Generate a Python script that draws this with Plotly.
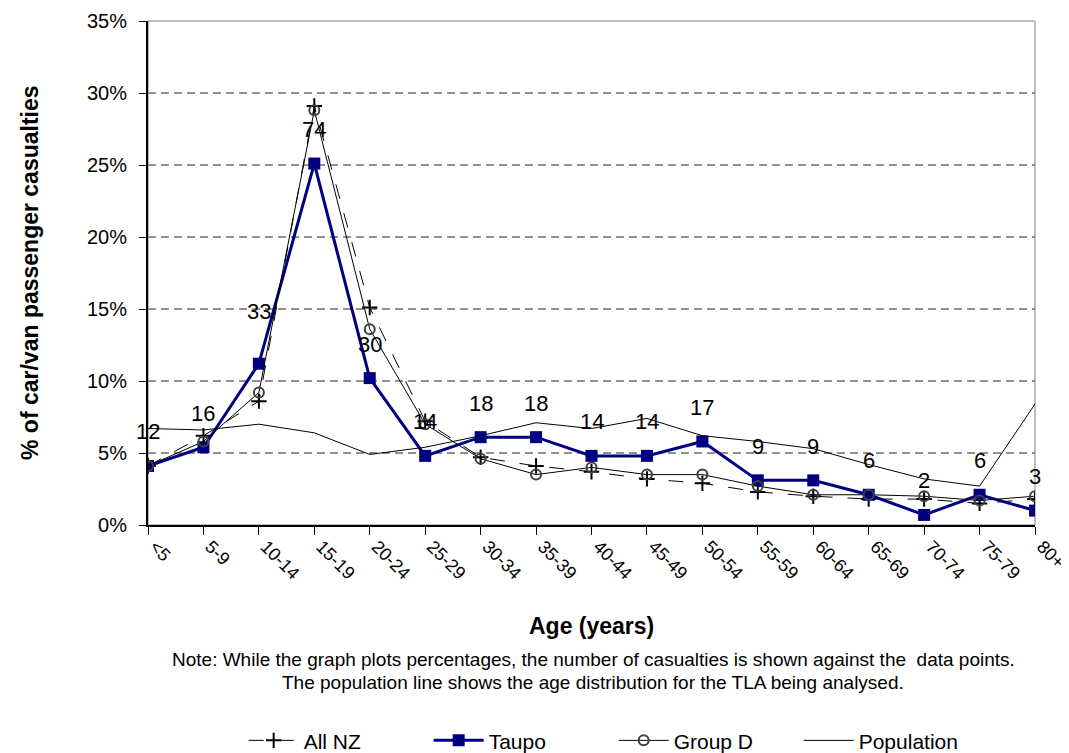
import plotly.graph_objects as go

# age groups along the x axis
ageGroups = ['<5', '5-9', '10-14', '15-19', '20-24', '25-29', '30-34', '35-39', '40-44',
             '45-49', '50-54', '55-59', '60-64', '65-69', '70-74', '75-79', '80+']

# percentages (fractions)
allNZ = [0.041, 0.062, 0.086, 0.291, 0.151, 0.072, 0.047, 0.041, 0.037,
         0.032, 0.029, 0.023, 0.020, 0.018, 0.018, 0.015, 0.018]
taupo = [0.041, 0.054, 0.112, 0.251, 0.102, 0.048, 0.061, 0.061, 0.048,
         0.048, 0.058, 0.031, 0.031, 0.021, 0.007, 0.021, 0.010]
groupD = [0.041, 0.058, 0.092, 0.288, 0.136, 0.070, 0.046, 0.035, 0.040,
          0.035, 0.035, 0.027, 0.021, 0.021, 0.020, 0.017, 0.020]
population = [0.067, 0.066, 0.070, 0.064, 0.049, 0.054, 0.062, 0.071, 0.067,
              0.074, 0.062, 0.058, 0.053, 0.042, 0.032, 0.027, 0.084]

# number of Taupo casualties shown against the points
taupoCounts = [12, 16, 33, 74, 30, 14, 18, 18, 14, 14, 17, 9, 9, 6, 2, 6, 3]

yTicks = [0, 0.05, 0.10, 0.15, 0.20, 0.25, 0.30, 0.35]
yTickText = ['0%', '5%', '10%', '15%', '20%', '25%', '30%', '35%']

FONT = 'Liberation Sans, Arial, sans-serif'

fig = go.Figure()

fig.add_trace(go.Scatter(
    x=ageGroups, y=allNZ, name='All NZ', mode='lines+markers',
    line=dict(color='black', width=1, dash='longdash'),
    marker=dict(symbol='cross-thin', size=11, line=dict(color='black', width=2)),
))
fig.add_trace(go.Scatter(
    x=ageGroups, y=taupo, name='Taupo', mode='lines+markers',
    line=dict(color='#000080', width=3),
    marker=dict(symbol='square', size=12, color='#000080'),
))
fig.add_trace(go.Scatter(
    x=ageGroups, y=groupD, name='Group D', mode='lines+markers',
    line=dict(color='black', width=1),
    marker=dict(symbol='circle-open', size=10, color='#404040', line=dict(width=2)),
))
fig.add_trace(go.Scatter(
    x=ageGroups, y=population, name='Population', mode='lines',
    line=dict(color='black', width=1),
))

# casualty counts above the Taupo points
annotations = []
for age, val, cnt in zip(ageGroups, taupo, taupoCounts):
    shift = 52 if cnt == 33 else 34
    annotations.append(dict(x=age, y=val, text=str(cnt), showarrow=False,
                            yshift=shift, font=dict(size=22, color='black', family=FONT)))

# axis titles and note
annotations.append(dict(x=0.5, y=0, xref='paper', yref='paper', yshift=-101,
                        xanchor='center', yanchor='middle',
                        text='<b>Age (years)</b>', showarrow=False,
                        font=dict(size=23, color='black', family=FONT)))
annotations.append(dict(x=0, y=0.5, xref='paper', yref='paper', xshift=-118,
                        xanchor='center', yanchor='middle',
                        text='<b>% of car/van passenger casualties</b>', textangle=-90,
                        showarrow=False, font=dict(size=23, color='black', family=FONT)))
annotations.append(dict(x=0.502, y=0, xref='paper', yref='paper', yshift=-134,
                        xanchor='center', yanchor='middle',
                        text='Note: While the graph plots percentages, the number of casualties is shown against the  data points.',
                        showarrow=False, font=dict(size=19, color='black', family=FONT)))
annotations.append(dict(x=0.502, y=0, xref='paper', yref='paper', yshift=-157,
                        xanchor='center', yanchor='middle',
                        text='The population line shows the age distribution for the TLA being analysed.',
                        showarrow=False, font=dict(size=19, color='black', family=FONT)))

# dashed gridlines between 0% and 35%
shapes = [dict(type='line', xref='paper', yref='y', x0=0, x1=1, y0=v, y1=v,
               line=dict(color='#222222', width=1, dash='8px,5px'), layer='below')
          for v in yTicks[1:-1]]
shapes.append(dict(type='rect', xref='paper', yref='paper', x0=0, y0=0, x1=1, y1=1,
                   line=dict(color='#808080', width=1), layer='below'))

# page body has an 8px margin, so the figure is 8px smaller than the window
fig.update_layout(
    width=1061, height=745,
    margin=dict(l=140, r=34, t=13, b=228, autoexpand=False),
    paper_bgcolor='white', plot_bgcolor='white',
    font=dict(family=FONT, size=20, color='black'),
    showlegend=True,
    legend=dict(orientation='h', xanchor='center', x=0.525, yanchor='middle', y=-0.428,
                font=dict(size=21), itemwidth=50, entrywidth=120, traceorder='normal'),
    annotations=annotations,
    shapes=shapes,
)

fig.update_xaxes(
    type='category', range=[0, len(ageGroups) - 1],
    showline=True, linecolor='black', linewidth=2,
    ticks='outside', ticklen=8, tickcolor='black', tickangle=45,
    ticklabelshift=7, ticklabelstandoff=-6,
    tickfont=dict(size=18), showgrid=False, zeroline=False, automargin=False,
)
fig.update_yaxes(
    range=[0, 0.35], tickvals=yTicks, ticktext=yTickText,
    showline=True, linecolor='black', linewidth=2,
    ticks='outside', ticklen=7, tickcolor='black', ticklabelstandoff=8,
    tickfont=dict(size=20), showgrid=False, zeroline=False, automargin=False,
)

fig.write_html("out.html")
